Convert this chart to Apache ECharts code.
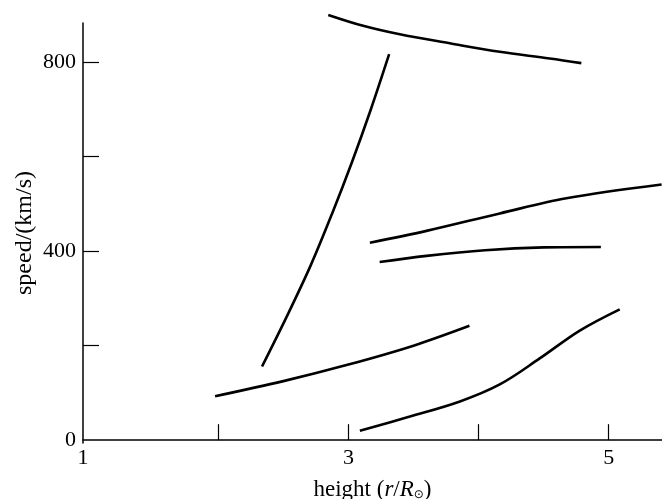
<!DOCTYPE html>
<html>
<head>
<meta charset="utf-8">
<script src="https://cdn.jsdelivr.net/npm/echarts@6/dist/echarts.min.js"></script>
<style>html,body{margin:0;padding:0;background:#fff}#c{width:662px;height:499px}</style>
</head>
<body>
<div id="c"></div>
<script>
// Curves: [height (r/Rsun), speed (km/s)]
const curveTop = [[2.845,900],[3.113,877],[3.395,859],[3.779,840],[4.163,822],[4.547,808],[4.79,798]];
const curveSteep = [[2.336,156],[2.523,260],[2.710,370],[2.875,480],[3.029,590],[3.172,700],[3.313,817]];
const curveUpper = [[3.165,418],[3.6,443],[4.163,480],[4.675,512],[5.407,541]];
const curveMiddle = [[3.24,377],[3.6,390],[4.05,402],[4.5,408],[4.94,409]];
const curveLowLeft = [[1.975,93],[2.5,125],[3.0,160],[3.5,200],[3.93,242]];
const curveLowRight = [[3.088,20],[3.472,50],[3.857,82],[4.163,118],[4.47,173],[4.778,232],[5.085,277]];

const xTickValues = [2,3,4,5];
const xLabelValues = [0.96,3,5];
const yTickValues = [200,400,600,800];
const yLabelValues = [0,400,800];

const FONT = '"Liberation Serif", "DejaVu Serif", serif';
const curves = [curveTop, curveSteep, curveUpper, curveMiddle, curveLowLeft, curveLowRight];

const chart = echarts.init(document.getElementById('c'));
chart.setOption({
  animation: false,
  grid: {left: 83, right: 0, top: 23, bottom: 56, containLabel: false, outerBoundsMode: 'none'},
  xAxis: {
    type: 'value', min: 0.96, max: 5.41,
    splitLine: {show: false},
    axisLine: {lineStyle: {color: '#000', width: 1.5}},
    axisTick: {show: true, inside: true, length: 16, customValues: xTickValues, lineStyle: {color: '#000', width: 1.2}},
    axisLabel: {customValues: xLabelValues, formatter: v => String(Math.round(v)), color: '#000', fontFamily: FONT, fontSize: 22, margin: 4},
    name: '{a|height (}{i|r}{a|/}{i|R}{s|⊙}{a|)}',
    nameLocation: 'middle', nameGap: 35, nameMoveOverlap: false,
    nameTextStyle: {
      color: '#000', fontFamily: FONT, fontSize: 23,
      rich: {
        a: {fontFamily: FONT, fontSize: 23, color: '#000'},
        i: {fontFamily: FONT, fontSize: 23, fontStyle: 'italic', color: '#000'},
        s: {fontFamily: '"DejaVu Sans", sans-serif', fontSize: 12, color: '#000', verticalAlign: 'bottom', padding: [8,0,0,0]}
      }
    }
  },
  yAxis: {
    type: 'value', min: -6, max: 883,
    splitLine: {show: false},
    axisLine: {lineStyle: {color: '#000', width: 1.5}},
    axisTick: {show: true, inside: true, length: 16, customValues: yTickValues, lineStyle: {color: '#000', width: 1.2}},
    axisLabel: {customValues: yLabelValues, color: '#000', fontFamily: FONT, fontSize: 22, margin: 7},
    name: 'speed/(km/s)', nameLocation: 'middle', nameGap: 46, nameMoveOverlap: false,
    nameTextStyle: {color: '#000', fontFamily: FONT, fontSize: 24}
  },
  series: curves.map(d => ({
    type: 'line', data: d, smooth: 0.35, showSymbol: false, clip: false,
    lineStyle: {color: '#000', width: 2.6}
  }))
});
</script>
</body>
</html>
